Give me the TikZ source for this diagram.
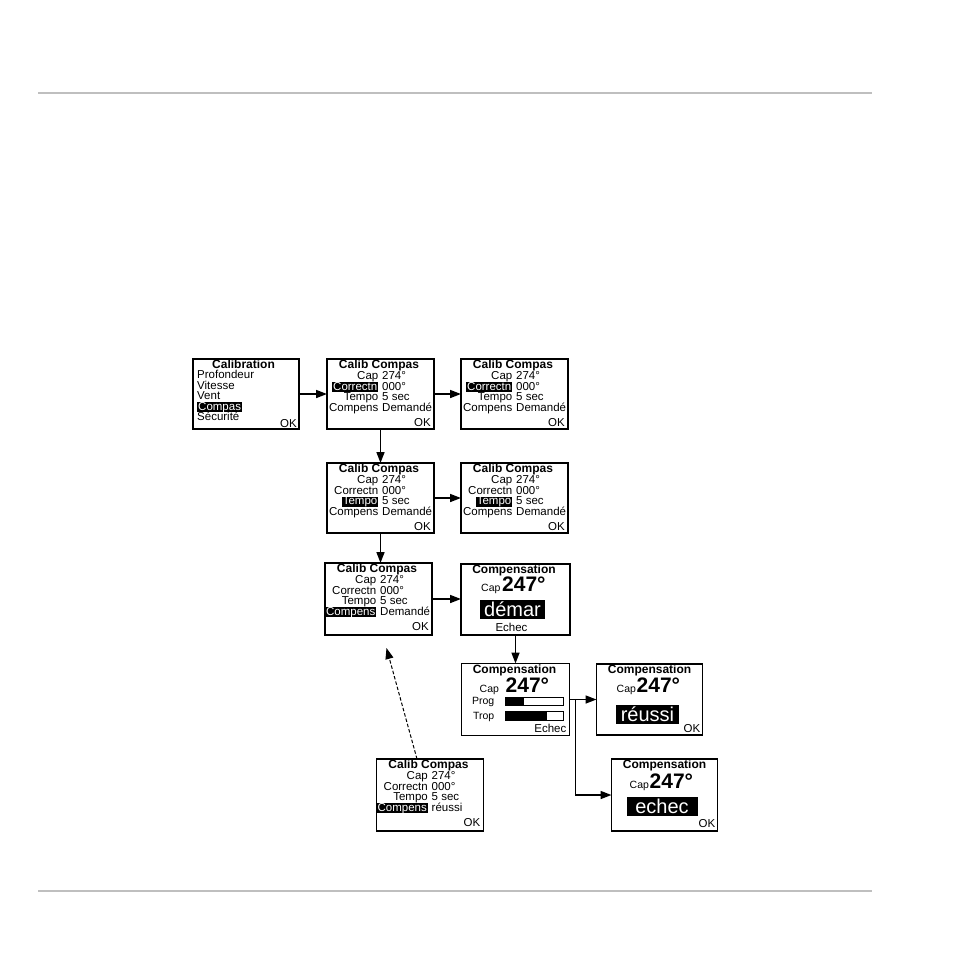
\documentclass[tikz,border=0pt]{standalone}
\usepackage{fontspec}
\setmainfont{Liberation Sans}
\usetikzlibrary{arrows.meta,positioning}

\tikzset{
  screen/.style={draw, line width=1.3pt, minimum width=107pt, minimum height=70pt, inner sep=0pt, outer sep=0pt},
  txt/.style={inner sep=0pt, font=\fontsize{11.5}{12}\selectfont, text height=8.4pt, text depth=1.6pt},
  ttl/.style={txt, font=\fontsize{12}{12}\selectfont\bfseries, text depth=1pt},
  small/.style={txt, font=\fontsize{10.5}{11}\selectfont},
  hl/.style={fill=black, text=white, inner xsep=1pt},
  big/.style={inner sep=0pt, font=\fontsize{21}{21}\selectfont\bfseries, anchor=base west},
  badge/.style={fill=black, text=white, font=\fontsize{20}{20}\selectfont, inner xsep=4.5pt, inner ysep=2pt, text height=14.5pt, text depth=0.5pt},
  flow/.style={-{Triangle[length=11pt,width=8pt]}, line width=1.6pt},
}

\begin{document}
\begin{tikzpicture}[x=1pt, y=-1pt]
\useasboundingbox (0,0) rectangle (954,954);
\draw[black!25, line width=1.2pt] (38,93) -- (872,93) (38,891) -- (872,891);

% screens
\node[screen, minimum width=106pt] (s1) at (246,394) {};
\node[screen] (s2) [right=28pt of s1] {};
\node[screen] (s3) [right=27pt of s2] {};
\node[screen] (s4) [below=34pt of s2] {};
\node[screen] (s5) [right=27pt of s4] {};
\node[screen, minimum height=72pt] (s6) [below=30pt of s4, xshift=-2pt] {};
\node[screen, minimum width=109pt, minimum height=71pt, line width=2pt] (s7) [right=29pt of s6] {};
\node[screen, minimum width=108pt, minimum height=72pt] (s8) [below=29pt of s7] {};
\node[screen, minimum width=106pt, minimum height=71pt] (s9) [right=27pt of s8] {};
\node[screen, minimum width=106pt, minimum height=72pt] (s11) [below=24pt of s9, xshift=15pt] {};
\node[screen, minimum height=72pt] (s10) [left=128pt of s11] {};

% main menu
\begin{scope}[shift={(s1.north west)}]
  \node[ttl] (m0) at (50.5,6) {Calibration};
  \foreach \entry/\yy/\st [count=\i] in {Profondeur/16.5/txt, Vitesse/27/txt, Vent/37.5/txt, Compas/48/hl, Sécurité/58.5/txt}
    \node[txt, \st, anchor=west] (m\i) at (4,\yy) {\entry};
  \node[txt, anchor=east] (m6) at (104,65) {OK};
\end{scope}

% calib compas screens
\foreach \scr/\sel/\res in {s2/2/Demandé, s3/2/Demandé, s4/3/Demandé, s5/3/Demandé, s6/4/Demandé, s10/4/réussi}{
  \begin{scope}[shift={(\scr.north west)}]
    \node[ttl] (\scr-t) at (52,6) {Calib Compas};
    \foreach \lab/\v/\yy [count=\i] in {Cap/274°/17, Correctn/000°/28, Tempo/5 sec/38.5, Compens/\res/49}{
      \ifnum\i=\sel\relax\tikzset{row/.style=hl}\else\tikzset{row/.style={}}\fi
      \node[txt, row, anchor=east] (\scr-l\i) at (51.5,\yy) {\lab};
      \node[txt, anchor=west] (\scr-v\i) at (55,\yy) {\v};
    }
    \node[txt, anchor=east] (\scr-ok) at (104,64) {OK};
  \end{scope}
}

% compensation screens
\foreach \scr/\cx/\bx/\by in {s7/20/41/28, s8/18/44/29, s9/20/40/28, s11/18/38/29}{
  \begin{scope}[shift={(\scr.north west)}]
    \node[ttl] (\scr-t) at (53,6) {Compensation};
    \node[small, anchor=base west] (\scr-c) at (\cx,\by) {Cap};
    \node[big] (\scr-h) at (\bx,\by) {247°};
  \end{scope}
}
\begin{scope}[shift={(s7.north west)}]
  \node[badge] (s7-b) at (51.5,45.5) {démar};
  \node[txt] (s7-e) at (50.5,65) {Echec};
\end{scope}
\begin{scope}[shift={(s8.north west)}]
  \node[small, anchor=east] (s8-p) at (33,38) {Prog};
  \node[small, anchor=east] (s8-q) at (33,52.5) {Trop};
  \draw[line width=0.9pt] (44,34) rectangle (102,42);
  \fill (44,34) rectangle (62,42);
  \draw[line width=0.9pt] (44,48) rectangle (102,57);
  \fill (44,48) rectangle (85,57);
  \node[txt, anchor=east] (s8-e) at (105,66) {Echec};
\end{scope}
\begin{scope}[shift={(s9.north west)}]
  \node[badge] (s9-b) at (51,50.5) {réussi};
  \node[txt, anchor=east] (s9-ok) at (104,65) {OK};
\end{scope}
\begin{scope}[shift={(s11.north west)}]
  \node[badge, minimum width=71pt] (s11-b) at (50.5,47) {echec};
  \node[txt, anchor=east] (s11-ok) at (104,65) {OK};
\end{scope}

% connectors
\draw[flow] (s1) -- (s2);
\draw[flow] (s2) -- (s3);
\draw[flow] (s2) -- (s4);
\draw[flow] (s4) -- (s5);
\draw[flow] (s4.south) -- (s4.south |- s6.north);
\draw[flow] (s6) -- (s7);
\draw[flow] (s7) -- (s8);
\draw[flow] (s8) -- (s9);
\coordinate[right=6pt of s8] (fork);
\draw[flow] (fork) |- (s11.west);
\coordinate (back) at ([xshift=8pt,yshift=-13pt]s6.south);
\draw[flow, line width=1pt, dash pattern=on 3.5pt off 2pt] ([xshift=-13pt]s10.north) -- (back);
\end{tikzpicture}
\end{document}
